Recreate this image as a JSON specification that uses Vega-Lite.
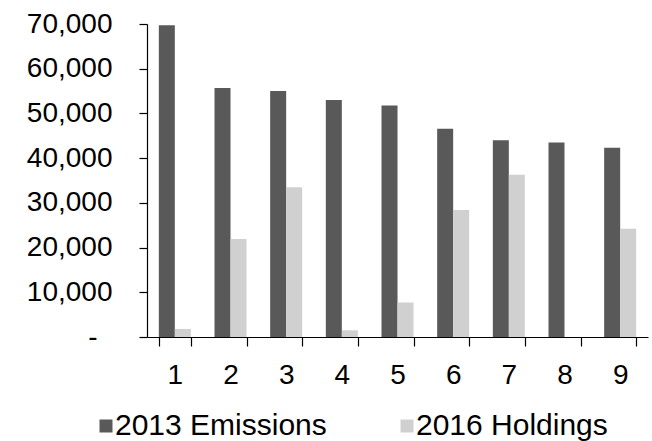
{
  "$schema": "https://vega.github.io/schema/vega-lite/v6.json",
  "autosize": "none",
  "width": 501,
  "height": 313,
  "padding": {"left": 147, "top": 24, "right": 4, "bottom": 104},
  "background": "white",
  "config": {
    "view": {"stroke": null},
    "font": "Liberation Sans",
    "axis": {"grid": false, "domainColor": "black", "tickColor": "black", "labelColor": "black", "labelFont": "Liberation Sans", "titleFont": "Liberation Sans"},
    "legend": {"labelFont": "Liberation Sans"}
  },
  "data": {
    "values": [
      {"cat": "1", "series": "2013 Emissions", "value": 69700},
      {"cat": "2", "series": "2013 Emissions", "value": 55700},
      {"cat": "3", "series": "2013 Emissions", "value": 55000},
      {"cat": "4", "series": "2013 Emissions", "value": 53000},
      {"cat": "5", "series": "2013 Emissions", "value": 51800},
      {"cat": "6", "series": "2013 Emissions", "value": 46600},
      {"cat": "7", "series": "2013 Emissions", "value": 44000},
      {"cat": "8", "series": "2013 Emissions", "value": 43500},
      {"cat": "9", "series": "2013 Emissions", "value": 42300},
      {"cat": "1", "series": "2016 Holdings", "value": 1800},
      {"cat": "2", "series": "2016 Holdings", "value": 21900},
      {"cat": "3", "series": "2016 Holdings", "value": 33500},
      {"cat": "4", "series": "2016 Holdings", "value": 1500},
      {"cat": "5", "series": "2016 Holdings", "value": 7700},
      {"cat": "6", "series": "2016 Holdings", "value": 28400},
      {"cat": "7", "series": "2016 Holdings", "value": 36300},
      {"cat": "8", "series": "2016 Holdings", "value": 0},
      {"cat": "9", "series": "2016 Holdings", "value": 24200}
    ]
  },
  "mark": {"type": "bar"},
  "encoding": {
    "x": {
      "field": "cat", "type": "ordinal", "title": null,
      "scale": {"paddingInner": 0.425, "paddingOuter": 0.2125},
      "axis": {"labelAngle": 0, "tickBand": "extent", "tickSize": 9, "labelFontSize": 28, "labelPadding": 15, "domainWidth": 1.2, "tickWidth": 1.2}
    },
    "xOffset": {"field": "series", "type": "nominal", "scale": {"paddingInner": 0, "paddingOuter": 0}},
    "y": {
      "field": "value", "type": "quantitative", "title": null,
      "scale": {"domain": [0, 70000], "nice": false},
      "axis": {"values": [0, 10000, 20000, 30000, 40000, 50000, 60000, 70000], "labelExpr": "datum.value == 0 ? '-' : format(datum.value, ',')", "tickSize": 8, "labelFontSize": 28, "labelPadding": {"condition": {"test": "datum.value == 0", "value": 42}, "value": 27}, "domainWidth": 1.2, "tickWidth": 1.2}
    },
    "color": {
      "field": "series", "type": "nominal",
      "scale": {"domain": ["2013 Emissions", "2016 Holdings"], "range": ["#595959", "#d0d0d0"]},
      "legend": {"title": null, "orient": "none", "direction": "horizontal", "legendX": -56, "legendY": 387, "symbolType": "square", "symbolSize": 169, "symbolStrokeWidth": 0, "labelFontSize": 30, "labelOffset": -6, "columnPadding": 65, "labelColor": "black", "labelLimit": 400}
    }
  }
}
